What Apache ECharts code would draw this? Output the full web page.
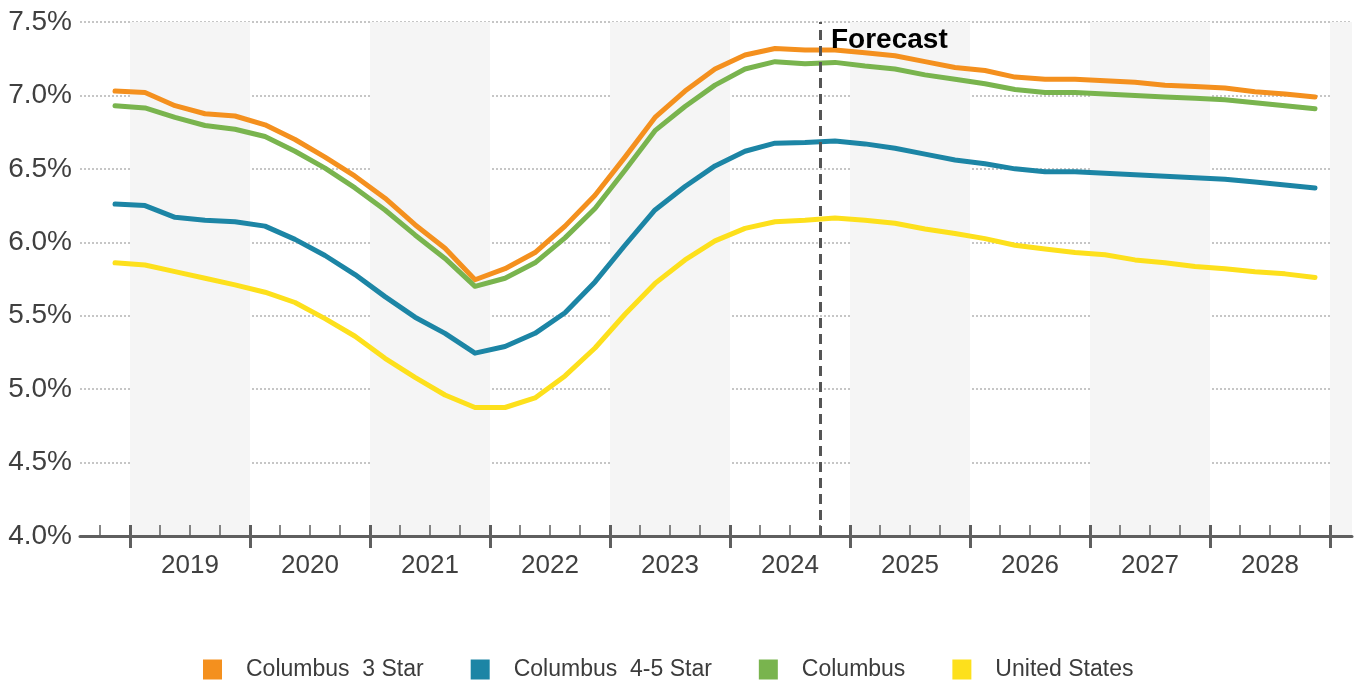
<!DOCTYPE html>
<html>
<head>
<meta charset="utf-8">
<script src="https://cdn.jsdelivr.net/npm/echarts@6/dist/echarts.min.js"></script>
<style>
  html, body { margin: 0; padding: 0; background: #ffffff; }
  #chart { width: 1356px; height: 684px; }
</style>
</head>
<body>
<div id="chart"></div>
<script>
// Quarterly vacancy / cap-rate style series, 2018 Q4 through 2028 Q4
const quarters = [
  '2018 Q4',
  '2019 Q1', '2019 Q2', '2019 Q3', '2019 Q4',
  '2020 Q1', '2020 Q2', '2020 Q3', '2020 Q4',
  '2021 Q1', '2021 Q2', '2021 Q3', '2021 Q4',
  '2022 Q1', '2022 Q2', '2022 Q3', '2022 Q4',
  '2023 Q1', '2023 Q2', '2023 Q3', '2023 Q4',
  '2024 Q1', '2024 Q2', '2024 Q3', '2024 Q4',
  '2025 Q1', '2025 Q2', '2025 Q3', '2025 Q4',
  '2026 Q1', '2026 Q2', '2026 Q3', '2026 Q4',
  '2027 Q1', '2027 Q2', '2027 Q3', '2027 Q4',
  '2028 Q1', '2028 Q2', '2028 Q3', '2028 Q4'
];

const columbus3Star = [7.03, 7.02, 6.93, 6.875, 6.86, 6.80, 6.70, 6.58, 6.45, 6.30, 6.12, 5.96, 5.745, 5.82, 5.93, 6.11, 6.32, 6.58, 6.85, 7.03, 7.18, 7.275, 7.32, 7.31, 7.31, 7.29, 7.27, 7.23, 7.19, 7.17, 7.125, 7.11, 7.11, 7.10, 7.09, 7.07, 7.06, 7.05, 7.025, 7.01, 6.99];
const columbus45Star = [6.26, 6.25, 6.17, 6.15, 6.14, 6.11, 6.02, 5.91, 5.78, 5.63, 5.49, 5.38, 5.245, 5.29, 5.38, 5.52, 5.73, 5.98, 6.22, 6.38, 6.52, 6.62, 6.675, 6.68, 6.69, 6.67, 6.64, 6.60, 6.56, 6.535, 6.50, 6.48, 6.48, 6.47, 6.46, 6.45, 6.44, 6.43, 6.41, 6.39, 6.37];
const columbusAll = [6.93, 6.915, 6.85, 6.795, 6.77, 6.72, 6.62, 6.505, 6.37, 6.22, 6.05, 5.89, 5.70, 5.755, 5.86, 6.03, 6.23, 6.49, 6.76, 6.925, 7.07, 7.18, 7.23, 7.215, 7.225, 7.20, 7.18, 7.14, 7.11, 7.08, 7.04, 7.02, 7.02, 7.01, 7.00, 6.99, 6.98, 6.97, 6.95, 6.93, 6.91];
const unitedStates = [5.86, 5.845, 5.80, 5.755, 5.71, 5.66, 5.59, 5.48, 5.36, 5.21, 5.08, 4.96, 4.875, 4.875, 4.94, 5.09, 5.28, 5.51, 5.72, 5.88, 6.01, 6.095, 6.14, 6.15, 6.165, 6.15, 6.13, 6.09, 6.06, 6.025, 5.98, 5.955, 5.93, 5.915, 5.88, 5.86, 5.835, 5.82, 5.80, 5.785, 5.76];

const yearLabels = ['2019', '2020', '2021', '2022', '2023', '2024', '2025', '2026', '2027', '2028'];
const shadedYears = [2019, 2021, 2023, 2025, 2027, 2029];
const forecastStart = '2024 Q4';

const seriesNames = ['Columbus  3 Star', 'Columbus  4-5 Star', 'Columbus', 'United States'];
const seriesColors = ['#F4901E', '#1C85A5', '#79B44E', '#FDE01C'];
const seriesValues = [columbus3Star, columbus45Star, columbusAll, unitedStates];

// Time axis in fractional years: each quarter sits in the middle of its span
function quarterMid(label) {
  const [y, q] = label.split(' Q');
  return Number(y) + (Number(q) - 1) * 0.25 + 0.125;
}
function quarterStart(label) {
  const [y, q] = label.split(' Q');
  return Number(y) + (Number(q) - 1) * 0.25;
}

const xMin = 2018.5833;
const xMax = 2029.1833;
const firstYear = Number(yearLabels[0]);
const lastYear = Number(yearLabels[yearLabels.length - 1]) + 1;

const yearTicks = [];
for (let y = firstYear; y <= lastYear; y++) yearTicks.push(y);
const quarterTicks = [];
for (let y = firstYear - 1; y <= lastYear; y++) {
  for (let q = 1; q < 4; q++) {
    const v = y + q * 0.25;
    if (v > xMin && v < xMax) quarterTicks.push(v);
  }
}
const labelPositions = yearLabels.map(y => Number(y) + 0.5);

const FONT = "'Liberation Sans', Arial, sans-serif";
const AXIS_COLOR = '#5f5f5f';

const baseX = {
  type: 'value', min: xMin, max: xMax, position: 'bottom', z: 10,
  splitLine: { show: false }
};

const lineSeries = seriesNames.map((name, i) => ({
  name,
  type: 'line',
  data: quarters.map((q, k) => [quarterMid(q), seriesValues[i][k]]),
  showSymbol: false,
  symbol: 'none',
  smooth: false,
  z: 3,
  lineStyle: { width: 5, color: seriesColors[i], cap: 'round', join: 'round' },
  itemStyle: { color: seriesColors[i] }
}));

const option = {
  animation: false,
  backgroundColor: '#ffffff',
  grid: { left: 80, right: 4, top: 22, bottom: 148, containLabel: false },
  legend: {
    data: seriesNames,
    left: 198,
    top: 653,
    icon: 'rect',
    itemWidth: 19,
    itemHeight: 20,
    itemGap: 47,
    textStyle: { fontFamily: FONT, fontSize: 23, color: '#3c3c3c', padding: [0, 0, 0, 19] }
  },
  xAxis: [
    Object.assign({}, baseX, {
      axisLine: { show: true, lineStyle: { color: AXIS_COLOR, width: 3 } },
      axisTick: { show: true, customValues: yearTicks, length: 12, inside: false, lineStyle: { color: AXIS_COLOR, width: 3 } },
      axisLabel: {
        show: true, customValues: labelPositions, margin: 17,
        fontFamily: FONT, fontSize: 26, color: '#404040',
        formatter: v => String(Math.floor(v))
      }
    }),
    Object.assign({}, baseX, {
      axisLine: { show: false },
      axisTick: { show: true, customValues: quarterTicks, length: 11, inside: true, lineStyle: { color: AXIS_COLOR, width: 1.5 } },
      axisLabel: { show: false }
    }),
    Object.assign({}, baseX, {
      axisLine: { show: false },
      axisTick: { show: true, customValues: yearTicks, length: 11, inside: true, lineStyle: { color: AXIS_COLOR, width: 3 } },
      axisLabel: { show: false }
    })
  ],
  yAxis: {
    type: 'value', min: 4, max: 7.5, interval: 0.5,
    axisLine: { show: false },
    axisTick: { show: false },
    axisLabel: {
      margin: 8, fontFamily: FONT, fontSize: 28, color: '#404040',
      formatter: v => v.toFixed(1) + '%'
    },
    splitLine: { show: true, lineStyle: { color: '#b4b4b4', width: 1.5, type: [2, 2] } }
  },
  series: [
    {
      // alternating year bands behind the lines
      name: 'bands', type: 'line', data: [], z: 0, silent: true,
      markArea: {
        silent: true,
        itemStyle: { color: '#f5f5f5' },
        data: shadedYears.map(y => [{ xAxis: y }, { xAxis: Math.min(y + 1, xMax) }])
      }
    },
    ...lineSeries,
    {
      // forecast divider and its caption
      name: 'forecast', type: 'line', data: [], z: 10, silent: true,
      markLine: {
        silent: true, symbol: 'none',
        label: { show: false },
        lineStyle: { color: '#555555', width: 3, type: [10, 6] },
        data: [{ xAxis: quarterStart(forecastStart) }]
      },
      markPoint: {
        silent: true, symbol: 'rect', symbolSize: 0,
        data: [{
          coord: [quarterStart(forecastStart), 7.5],
          label: {
            show: true, formatter: 'Forecast', position: [11, 4],
            fontFamily: FONT, fontSize: 28, fontWeight: 'bold', color: '#000000'
          }
        }]
      }
    }
  ]
};

const chart = echarts.init(document.getElementById('chart'), null, { renderer: 'canvas' });
chart.setOption(option);
</script>
</body>
</html>
